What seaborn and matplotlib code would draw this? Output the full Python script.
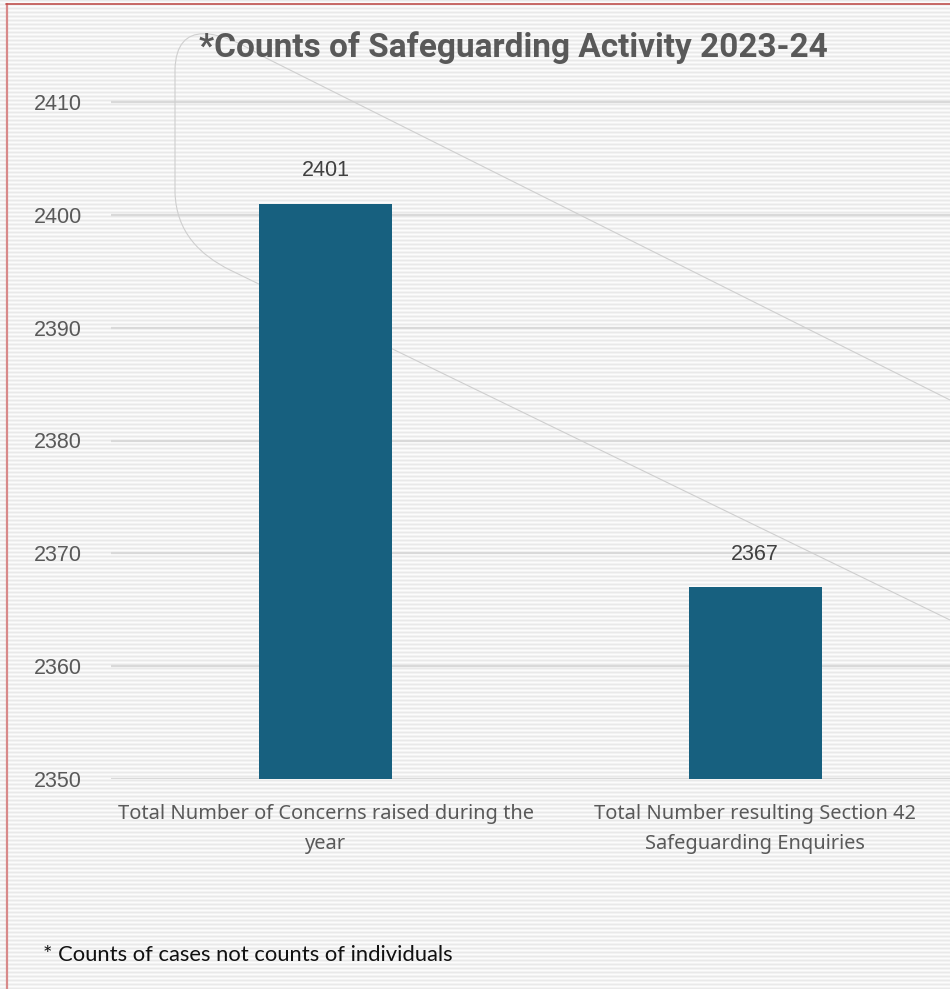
import numpy as np
import matplotlib
matplotlib.use("Agg")
import matplotlib.pyplot as plt
from matplotlib.path import Path
from matplotlib.patches import PathPatch
from matplotlib.lines import Line2D
import seaborn as sns

# Data
categories = ["Total Number of Concerns raised during the year",
              "Total Number resulting Section 42 Safeguarding Enquiries"]
tick_labels = ["Total Number of Concerns raised during the\nyear",
               "Total Number resulting Section 42\nSafeguarding Enquiries"]
counts = [2401, 2367]
y_ticks = [2350, 2360, 2370, 2380, 2390, 2400, 2410]

title_text = "*Counts of Safeguarding Activity 2023-24"
footnote_text = "* Counts of cases not counts of individuals"

W, H = 950, 989
DPI = 100
BAR = "#17607f"
GREY = "#595959"

sns.set_theme(style="white")
plt.rcParams["font.family"] = ["Liberation Sans", "DejaVu Sans"]

fig = plt.figure(figsize=(W / DPI, H / DPI), dpi=DPI)
fig.patch.set_facecolor("#f6f6f6")

# Fine horizontal stripe texture across the whole sheet
period = [0xe9, 0xf3, 0xfc, 0xf3]
rows = np.array([period[i % 4] for i in range(H)], dtype=float) / 255.0
tex = np.repeat(rows[:, None], W, axis=1)
tex = np.dstack([tex, tex, tex])
fig.figimage(tex, xo=0, yo=0, origin="upper", zorder=-5)

# Axes placed in pixel terms
y_lo, y_hi = 2350, 2412
px_per_unit = (779 - 102) / 60.0
ax_bottom_px = 779
ax_top_px = 102 - (y_hi - 2410) * px_per_unit
x_left_px = 111
x_right_px = 969.75
ax = fig.add_axes([x_left_px / W, 1 - ax_bottom_px / H,
                   (x_right_px - x_left_px) / W, (ax_bottom_px - ax_top_px) / H])
ax.set_zorder(2)
ax.set_facecolor("none")

sns.barplot(x=categories, y=counts, color=BAR, width=0.31, ax=ax,
            saturation=1, linewidth=0, zorder=3)
ax.set_xlim(-0.5, 1.5)
ax.set_ylim(y_lo, y_hi)
ax.set_yticks(y_ticks)
ax.set_yticklabels([str(t) for t in y_ticks], color=GREY, fontsize=15.5)
ax.set_xticks([0, 1])
ax.set_xticklabels(tick_labels, color=GREY, fontsize=14.4,
                   family=["Noto Sans", "DejaVu Sans"], linespacing=1.7)
ax.tick_params(axis="y", length=0, pad=21)
ax.tick_params(axis="x", length=0, pad=18)
ax.set_xlabel("")
ax.set_ylabel("")
for s in ax.spines.values():
    s.set_visible(False)
ax.grid(axis="y", color="#d9d9d9", linewidth=1.6, zorder=1)
ax.set_axisbelow(True)

# Value labels above each bar
for i, v in enumerate(counts):
    ax.annotate(str(v), (i, v), xytext=(0, 16), textcoords="offset points",
                ha="center", va="bottom", fontsize=15.5, color="#404040")

# Faint outline of a slanted rounded band behind the bars
def fy(y):
    return H - y

verts = [(950, fy(400)), (262, fy(56)),
         (220, fy(30)), (176, fy(18)), (175, fy(70)),
         (175, fy(192)),
         (176, fy(232)), (200, fy(255)), (230, fy(270)),
         (950, fy(620))]
codes = [Path.MOVETO, Path.LINETO,
         Path.CURVE4, Path.CURVE4, Path.CURVE4,
         Path.LINETO,
         Path.CURVE4, Path.CURVE4, Path.CURVE4,
         Path.LINETO]
band = PathPatch(Path(verts, codes), transform=None, facecolor="none",
                 edgecolor="#cfcfcf", linewidth=0.8, zorder=2, clip_on=False)
ax.add_patch(band)

# Title and footnote
fig.text(513 / W, 1 - 48 / H, title_text, ha="center", va="center",
         fontsize=24, fontweight="bold", color=GREY,
         family=["Liberation Sans Narrow", "Roboto", "DejaVu Sans"])
fig.text(43 / W, 1 - 955 / H, footnote_text, ha="left", va="center",
         fontsize=15.8, color="#111111", family=["Lato", "DejaVu Sans"])

# Red sheet border
fig.add_artist(Line2D([7 / W, 7 / W], [0, 1 - 4 / H], color="#d88a8a",
                      linewidth=1.6, transform=fig.transFigure))
fig.add_artist(Line2D([6 / W, 1], [1 - 4 / H, 1 - 4 / H], color="#c0504d",
                      linewidth=1.2, transform=fig.transFigure))

fig.savefig("out.png", dpi=DPI)
